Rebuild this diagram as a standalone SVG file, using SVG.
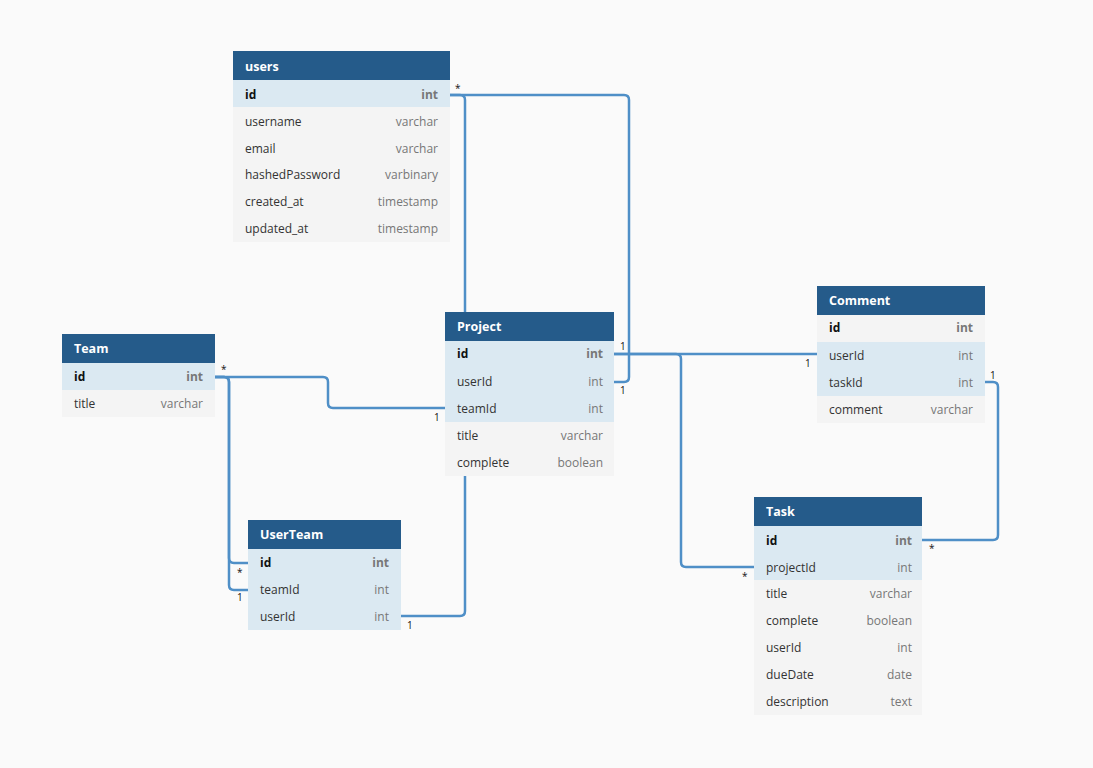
<svg xmlns="http://www.w3.org/2000/svg" width="1093" height="768" viewBox="0 0 1093 768">
<style>
text{font-family:"Open Sans","DejaVu Sans",sans-serif;font-size:12px}
.hd{fill:#255b8a}.ht{fill:#fff;font-weight:bold;font-size:12.5px}
.k{fill:#dbe9f2}.g{fill:#f4f4f4}
.n{fill:#333}.nb{fill:#111;font-weight:bold}
.t{fill:#777;text-anchor:end}.tb{fill:#777;font-weight:bold;text-anchor:end}
.c{fill:none;stroke:#4f8fc7;stroke-width:2.5}
.l{fill:#111;font-size:10px}
</style>
<rect width="1093" height="768" fill="#fafafa"/>
<g id="connectors">
<path class="c" d="M450,95 H460 q5,0 5,5 V611 q0,5 -5,5 H401"/>
<path class="c" d="M450,95 H624 q5,0 5,5 V377 q0,5 -5,5 H614"/>
<path class="c" d="M614,354 H817"/>
<path class="c" d="M614,354 H676 q5,0 5,5 V562 q0,5 5,5 H754"/>
<path class="c" d="M985,382 H993 q5,0 5,5 V535 q0,5 -5,5 H922"/>
<path class="c" d="M215,377 H323 q5,0 5,5 V403 q0,5 5,5 H445"/>
<path class="c" d="M215,377 H224 q5,0 5,5 V558 q0,5 5,5 H248"/>
<path class="c" d="M215,377 H224 q5,0 5,5 V585 q0,5 5,5 H248"/>
</g>
<g id="users">
<rect class="hd" x="233" y="51" width="217" height="29"/><text class="ht" x="245" y="71">users</text>
<rect class="k" x="233" y="80" width="217" height="27"/><text class="nb" x="245" y="99">id</text><text class="tb" x="438" y="99">int</text>
<rect class="g" x="233" y="107" width="217" height="135"/>
<text class="n" x="245" y="126">username</text><text class="t" x="438" y="126">varchar</text>
<text class="n" x="245" y="153">email</text><text class="t" x="438" y="153">varchar</text>
<text class="n" x="245" y="179">hashedPassword</text><text class="t" x="438" y="179">varbinary</text>
<text class="n" x="245" y="206">created_at</text><text class="t" x="438" y="206">timestamp</text>
<text class="n" x="245" y="233">updated_at</text><text class="t" x="438" y="233">timestamp</text>
</g>
<g id="Team">
<rect class="hd" x="62" y="334" width="153" height="29"/><text class="ht" x="74" y="353">Team</text>
<rect class="k" x="62" y="363" width="153" height="27"/><text class="nb" x="74" y="381">id</text><text class="tb" x="203" y="381">int</text>
<rect class="g" x="62" y="390" width="153" height="27"/><text class="n" x="74" y="408">title</text><text class="t" x="203" y="408">varchar</text>
</g>
<g id="Project">
<rect class="hd" x="445" y="312" width="169" height="29"/><text class="ht" x="457" y="331">Project</text>
<rect class="k" x="445" y="341" width="169" height="81"/>
<rect class="g" x="445" y="422" width="169" height="54"/>
<text class="nb" x="457" y="358">id</text><text class="tb" x="603" y="358">int</text>
<text class="n" x="457" y="386">userId</text><text class="t" x="603" y="386">int</text>
<text class="n" x="457" y="413">teamId</text><text class="t" x="603" y="413">int</text>
<text class="n" x="457" y="440">title</text><text class="t" x="603" y="440">varchar</text>
<text class="n" x="457" y="467">complete</text><text class="t" x="603" y="467">boolean</text>
</g>
<g id="Comment">
<rect class="hd" x="817" y="286" width="168" height="29"/><text class="ht" x="829" y="305">Comment</text>
<rect class="g" x="817" y="315" width="168" height="108"/>
<rect class="k" x="817" y="342" width="168" height="54"/>
<text class="nb" x="829" y="332">id</text><text class="tb" x="973" y="332">int</text>
<text class="n" x="829" y="360">userId</text><text class="t" x="973" y="360">int</text>
<text class="n" x="829" y="387">taskId</text><text class="t" x="973" y="387">int</text>
<text class="n" x="829" y="414">comment</text><text class="t" x="973" y="414">varchar</text>
</g>
<g id="UserTeam">
<rect class="hd" x="248" y="520" width="153" height="29"/><text class="ht" x="260" y="539">UserTeam</text>
<rect class="k" x="248" y="549" width="153" height="81"/>
<text class="nb" x="260" y="567">id</text><text class="tb" x="389" y="567">int</text>
<text class="n" x="260" y="594">teamId</text><text class="t" x="389" y="594">int</text>
<text class="n" x="260" y="621">userId</text><text class="t" x="389" y="621">int</text>
</g>
<g id="Task">
<rect class="hd" x="754" y="497" width="168" height="29"/><text class="ht" x="766" y="516">Task</text>
<rect class="k" x="754" y="526" width="168" height="54"/>
<rect class="g" x="754" y="580" width="168" height="135"/>
<text class="nb" x="766" y="545">id</text><text class="tb" x="912" y="545">int</text>
<text class="n" x="766" y="572">projectId</text><text class="t" x="912" y="572">int</text>
<text class="n" x="766" y="598">title</text><text class="t" x="912" y="598">varchar</text>
<text class="n" x="766" y="625">complete</text><text class="t" x="912" y="625">boolean</text>
<text class="n" x="766" y="652">userId</text><text class="t" x="912" y="652">int</text>
<text class="n" x="766" y="679">dueDate</text><text class="t" x="912" y="679">date</text>
<text class="n" x="766" y="706">description</text><text class="t" x="912" y="706">text</text>
</g>
<g id="labels">
<text class="l" x="455" y="92">*</text>
<text class="l" x="620" y="350">1</text>
<text class="l" x="620" y="394">1</text>
<text class="l" x="805" y="367">1</text>
<text class="l" x="990" y="379">1</text>
<text class="l" x="929" y="552">*</text>
<text class="l" x="742" y="580">*</text>
<text class="l" x="221" y="373">*</text>
<text class="l" x="434" y="421">1</text>
<text class="l" x="237" y="576">*</text>
<text class="l" x="237" y="601">1</text>
<text class="l" x="407" y="629">1</text>
</g>
</svg>
